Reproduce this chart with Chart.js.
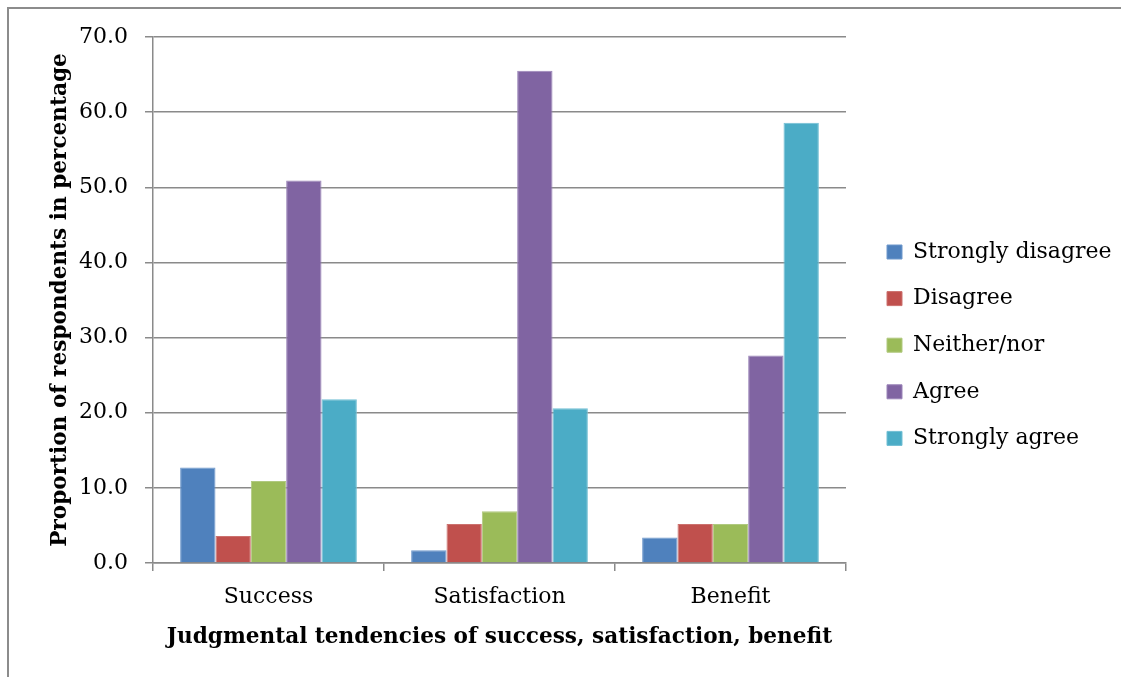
<!DOCTYPE html>
<html>
<head>
<meta charset="utf-8">
<script src="https://cdn.jsdelivr.net/npm/chart.js@4/dist/chart.umd.min.js"></script>
<style>
  html, body { margin: 0; padding: 0; background: #ffffff; overflow: hidden; }
  #wrap { position: relative; width: 1121px; height: 677px; }
  #chart { position: absolute; left: 0; top: 0; }
  #frame {
    position: absolute; left: 7px; top: 7px; width: 1300px; height: 900px;
    border-left: 2px solid #8c8c8c; border-top: 2px solid #8c8c8c;
    pointer-events: none;
  }
</style>
</head>
<body>
<div id="wrap">
  <canvas id="chart" width="1121" height="677"></canvas>
  <div id="frame"></div>
</div>
<script>
// Survey responses (% of respondents) per judgement
const categories = ['Success', 'Satisfaction', 'Benefit'];
const seriesNames = ['Strongly disagree', 'Disagree', 'Neither/nor', 'Agree', 'Strongly agree'];
const stronglyDisagree = [12.7, 1.7, 3.4];
const disagree = [3.6, 5.2, 5.2];
const neitherNor = [10.9, 6.9, 5.2];
const agree = [50.9, 65.5, 27.6];
const stronglyAgree = [21.8, 20.6, 58.6];
const yTicks = [0, 10, 20, 30, 40, 50, 60, 70];

const seriesValues = [stronglyDisagree, disagree, neitherNor, agree, stronglyAgree];
const fills = ['#4f81bd', '#c0504d', '#9bbb59', '#8064a2', '#4bacc6'];
const edges = ['#6f98cc', '#cc716e', '#b0c97f', '#9a84b8', '#72bfd4'];

const FONT = 'DejaVu Serif';
const GRID = '#8a8a8a';
const TITLE_SIZE = 21.6;

// Fix the geometry of the plot area and the legend column
const PLOT_LEFT = 153, PLOT_RIGHT = 846, PLOT_BOTTOM = 563;
const LEGEND_LEFT = 862.4;

const legendPlacement = {
  id: 'legendPlacement',
  beforeLayout(chart) {
    const lg = chart.legend;
    if (lg && !lg._fixedFit) {
      const fit = lg.fit.bind(lg);
      lg.fit = function () { fit(); this.width = chart.width - PLOT_RIGHT; };
      lg._fixedFit = true;
    }
  },
  afterLayout(chart) {
    const lg = chart.legend;
    if (!lg) return;
    lg.left = LEGEND_LEFT;
    lg.right = LEGEND_LEFT + lg.width;
    lg.top = 37;
    lg.bottom = 653.4;
  }
};

new Chart(document.getElementById('chart'), {
  type: 'bar',
  data: {
    labels: categories,
    datasets: seriesNames.map((name, i) => ({
      label: name,
      data: seriesValues[i],
      backgroundColor: fills[i],
      borderColor: edges[i],
      borderWidth: 1
    }))
  },
  options: {
    responsive: false,
    animation: false,
    devicePixelRatio: 1,
    layout: { padding: { left: 0, right: 0, top: 37, bottom: 0 } },
    datasets: { bar: { barPercentage: 1.0, categoryPercentage: 0.765 } },
    plugins: {
      tooltip: { enabled: false },
      legend: {
        position: 'right',
        labels: {
          color: '#000000',
          font: { family: FONT, size: 22 },
          boxWidth: 15,
          boxHeight: 14,
          padding: 24.6
        }
      }
    },
    scales: {
      x: {
        offset: true,
        afterFit(scale) { scale.height = 677 - PLOT_BOTTOM; },
        grid: { display: true, drawOnChartArea: false, drawTicks: true, tickLength: 8, offset: true, color: GRID, lineWidth: 1.5 },
        border: { display: true, color: GRID, width: 1.5 },
        ticks: { color: '#000000', font: { family: FONT, size: 22 }, padding: 12.8, maxRotation: 0 },
        title: {
          display: true,
          text: 'Judgmental tendencies of success, satisfaction, benefit',
          color: '#000000',
          font: { family: FONT, size: TITLE_SIZE, weight: 'bold' },
          padding: { top: 0, bottom: 27 }
        }
      },
      y: {
        min: 0,
        max: 70,
        afterFit(scale) { scale.width = PLOT_LEFT; },
        afterBuildTicks(scale) { scale.ticks = yTicks.map(v => ({ value: v })); },
        grid: { color: GRID, lineWidth: 1.5, drawTicks: true, tickLength: 8 },
        border: { display: true, color: GRID, width: 1.5 },
        ticks: {
          color: '#000000',
          font: { family: FONT, size: 22 },
          padding: 17,
          callback: v => Number(v).toFixed(1)
        },
        title: {
          display: true,
          text: 'Proportion of respondents in percentage',
          color: '#000000',
          font: { family: FONT, size: TITLE_SIZE, weight: 'bold' },
          padding: { top: 47, bottom: 0 }
        }
      }
    }
  },
  plugins: [legendPlacement]
});
</script>
</body>
</html>
